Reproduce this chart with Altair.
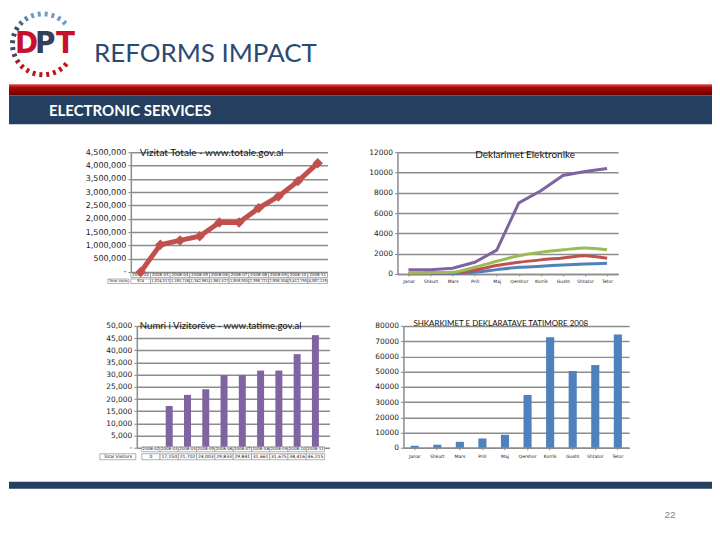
import altair as alt
import pandas as pd

# ---------------- data ----------------
tl_months = ["2008-02", "2008-03", "2008-04", "2008-05", "2008-06",
             "2008-07", "2008-08", "2008-09", "2008-10", "2008-11"]
tl_visits = [874, 1024317, 1185716, 1342861, 1861527,
             1858305, 2398721, 2836504, 3412795, 4087119]

months_al = ["Janar", "Shkurt", "Mars", "Prill", "Maj",
             "Qershor", "Korrik", "Gusht", "Shtator", "Tetor"]
decl_blue = [20, 40, 60, 170, 430, 660, 760, 890, 990, 1050]
decl_red = [70, 90, 110, 400, 830, 1150, 1390, 1580, 1800, 1550]
decl_green = [100, 130, 180, 660, 1250, 1800, 2150, 2380, 2570, 2380]
decl_purple = [420, 430, 560, 1150, 2350, 7000, 8200, 9700, 10100, 10400]
decl_series = ["S1", "S2", "S3", "S4"]

bl_months = tl_months
bl_visitors = [0, 17150, 21702, 24003, 29833, 29841, 31661, 31675, 38416, 46215]

br_downloads = [1300, 2000, 3900, 6100, 8500, 34600, 72600, 50400, 54300, 74300]

logo_angles = [45, 58, 71, 84, 97, 110, 123, 136, 149, 162, 175, 188,
               201, 214, 227, 240, 253, 266, 279, 292, 305, 318]
logo_colors = ["#6E9CC8", "#6E9CC8", "#6E9CC8", "#6E9CC8", "#6E9CC8", "#6E9CC8",
               "#5F86B0", "#4F6B90", "#3D4B68", "#3D4B68", "#3D4B68", "#3D4B68",
               "#5A3B4E", "#9A2030", "#C0141B", "#C0141B", "#C0141B", "#C0141B",
               "#C0141B", "#C0141B", "#C0141B", "#C0141B"]

# ---------------- style ----------------
FONT = "DejaVu Sans"
TFONT = "Lato"
GRID = "#8C8C8C"
RED = "#C0504D"
BLUE = "#4F81BD"
GREEN = "#9BBB59"
PURPLE = "#8064A2"
NAVY = "#243F60"

one = pd.DataFrame({"k": [0]})


def yaxis(values, expr, size=7.5):
    return alt.Axis(values=values, labelExpr=expr, grid=True, gridColor=GRID,
                    gridWidth=1.5, domainColor=GRID, domainWidth=1.5,
                    tickColor=GRID, tickSize=3, labelFontSize=size,
                    labelFont=FONT, labelColor="#222", labelPadding=2, title=None)


def ghost(x0, x1, y0, y1):
    # invisible box, only used to fix the extent of a layout cell
    return alt.Chart(one).mark_rect(opacity=0).encode(
        x=alt.value(x0), x2=alt.value(x1), y=alt.value(y0), y2=alt.value(y1))


def spacer(w, h, top=0, bottom=None):
    if bottom is None:
        bottom = h
    return ghost(0, w, top, bottom).properties(width=w, height=h)


DASH = "datum.value == 0 ? '-' : format(datum.value, ',')"

# ---------------- header ----------------
logo_df = pd.DataFrame({"a": logo_angles, "c": logo_colors})
dashes = alt.Chart(logo_df).transform_calculate(
    xa="34 + 28*cos(datum.a*PI/180)", ya="36 - 28*sin(datum.a*PI/180)",
    xb="34 + 33*cos(datum.a*PI/180)", yb="36 - 33*sin(datum.a*PI/180)"
).mark_rule(strokeWidth=3).encode(
    x=alt.X("xa:Q", scale=None), y=alt.Y("ya:Q", scale=None),
    x2="xb:Q", y2="yb:Q", color=alt.Color("c:N", scale=None)
)
hbase = alt.Chart(one)
logo_font = "Liberation Sans Narrow, DejaVu Sans Condensed, sans-serif"
d_txt = hbase.mark_text(align="left", baseline="alphabetic", font=logo_font,
                        fontWeight="bold", fontSize=31, color="#C8102E").encode(
    x=alt.value(6), y=alt.value(45), text=alt.value("D"))
p_txt = hbase.mark_text(align="left", baseline="alphabetic", font=logo_font,
                        fontWeight="bold", fontSize=31, color="#34405A").encode(
    x=alt.value(26), y=alt.value(45), text=alt.value("P"))
t_txt = hbase.mark_text(align="left", baseline="alphabetic", font=logo_font,
                        fontWeight="bold", fontSize=31, color="#C8102E").encode(
    x=alt.value(47), y=alt.value(45), text=alt.value("T"))
title_txt = hbase.mark_text(align="left", baseline="alphabetic", font=TFONT,
                            fontSize=26, color="#2A4A72").encode(
    x=alt.value(85), y=alt.value(54), text=alt.value("REFORMS IMPACT"))
red_grad = alt.Gradient(gradient="linear", x1=0, x2=0, y1=0, y2=1, stops=[
    alt.GradientStop(color="#E04848", offset=0),
    alt.GradientStop(color="#A80808", offset=0.3),
    alt.GradientStop(color="#6E0000", offset=1)])
red_band = hbase.mark_rect(color=red_grad).encode(
    x=alt.value(0), x2=alt.value(704), y=alt.value(76), y2=alt.value(87))
blue_band = hbase.mark_rect(color=NAVY).encode(
    x=alt.value(0), x2=alt.value(704), y=alt.value(87), y2=alt.value(116))
sub_txt = hbase.mark_text(align="left", baseline="alphabetic", font=TFONT,
                          fontWeight="bold", fontSize=15, color="white").encode(
    x=alt.value(40), y=alt.value(108), text=alt.value("ELECTRONIC SERVICES"))
header = alt.layer(ghost(0, 704, 0, 136), dashes, d_txt, p_txt, t_txt, title_txt,
                   red_band, blue_band, sub_txt).properties(width=704, height=136)

# ---------------- top-left: Vizitat Totale ----------------
tl_df = pd.DataFrame({"idx": list(range(10)), "month": tl_months, "visits": tl_visits})
xs_tl = alt.Scale(domain=[-0.5, 9.5], nice=False, zero=False)
tl_base = alt.Chart(tl_df)
tl_y = alt.Y("visits:Q", scale=alt.Scale(domain=[0, 4500000], nice=False),
             axis=yaxis(list(range(0, 4500001, 500000)), DASH, size=8))
tl_x = alt.X("idx:Q", scale=xs_tl, axis=None)
tl_line = tl_base.mark_line(color=RED, strokeWidth=5).encode(x=tl_x, y=tl_y)
tl_pts = tl_base.mark_point(shape="diamond", filled=True, size=110, color=RED,
                            opacity=1).encode(x=tl_x, y=tl_y)
cell_kw = dict(fill="white", stroke="#7F7F7F", strokeWidth=0.6)
tl_cells = alt.layer(*[
    tl_base.transform_calculate(x0="datum.idx-0.5", x1="datum.idx+0.5")
    .mark_rect(**cell_kw).encode(x=alt.X("x0:Q", scale=xs_tl, axis=None), x2="x1:Q",
                                 y=alt.value(y0), y2=alt.value(y1))
    for (y0, y1) in [(121, 125.5), (127, 131.5)]
])
tl_t1 = tl_base.mark_text(fontSize=4, font=FONT, color="#111").encode(
    x=tl_x, y=alt.value(123.3), text="month:N")
tl_t2 = tl_base.mark_text(fontSize=3.6, font=FONT, color="#111").encode(
    x=tl_x, y=alt.value(129.3), text=alt.Text("visits:Q", format=","))
tl_hcell = alt.Chart(one).mark_rect(**cell_kw).encode(
    x=alt.value(-23), x2=alt.value(-2), y=alt.value(127), y2=alt.value(131.5))
tl_htxt = alt.Chart(one).mark_text(fontSize=3.6, font=FONT, color="#111").encode(
    x=alt.value(-12.5), y=alt.value(129.3), text=alt.value("Total visits"))
tl_title = alt.Chart(one).mark_text(align="left", baseline="middle", font=TFONT,
                                    fontSize=10, color="#111").encode(
    x=alt.value(9), y=alt.value(1), text=alt.value("Vizitat Totale  - www.totale.gov.al"))
top_left = alt.layer(tl_cells, tl_t1, tl_t2, tl_hcell, tl_htxt, tl_line, tl_pts,
                     tl_title).properties(width=197, height=120)

# ---------------- top-right: Deklarimet Elektronike ----------------
rows = []
for s, vals in zip(decl_series, [decl_blue, decl_red, decl_green, decl_purple]):
    for m, v in zip(months_al, vals):
        rows.append({"month": m, "series": s, "value": v})
tr_df = pd.DataFrame(rows)
tr_x = alt.X("month:N", sort=months_al, scale=alt.Scale(type="point", padding=0.5),
             axis=alt.Axis(labelFontSize=4.5, labelFont=FONT, labelAngle=0,
                           labelColor="#222", tickSize=2, tickColor=GRID,
                           domainColor=GRID, domainWidth=1.5, labelPadding=3,
                           title=None, grid=False))
tr_y = alt.Y("value:Q", scale=alt.Scale(domain=[0, 12000], nice=False),
             axis=yaxis(list(range(0, 12001, 2000)), "format(datum.value, 'd')"))
tr_color = alt.Color("series:N", scale=alt.Scale(domain=decl_series,
                                                 range=[BLUE, RED, GREEN, PURPLE]),
                     legend=None)
tr_smooth = alt.Chart(tr_df).transform_filter("datum.series != 'S4'").mark_line(
    interpolate="monotone", strokeWidth=3).encode(x=tr_x, y=tr_y, color=tr_color,
                                                  detail="series:N")
tr_straight = alt.Chart(tr_df).transform_filter("datum.series == 'S4'").mark_line(
    strokeWidth=3).encode(x=tr_x, y=tr_y, color=tr_color)
tr_title = alt.Chart(one).mark_text(align="left", baseline="middle", font=TFONT,
                                    fontSize=10, color="#111").encode(
    x=alt.value(78), y=alt.value(2.5), text=alt.value("Deklarimet Elektronike"))
top_right = alt.layer(tr_smooth, tr_straight, tr_title).properties(width=221, height=122)

# ---------------- bottom-left: Numri i Vizitoreve ----------------
bl_df = pd.DataFrame({"idx": list(range(10)), "month": bl_months, "visitors": bl_visitors})
bl_base = alt.Chart(bl_df)
bl_x = alt.X("idx:Q", scale=xs_tl, axis=None)
bl_y = alt.Y("visitors:Q", scale=alt.Scale(domain=[0, 50000], nice=False),
             axis=yaxis(list(range(0, 50001, 5000)), DASH))
bl_bars = bl_base.mark_bar(size=7, color=PURPLE).encode(x=bl_x, y=bl_y)
bl_cells = alt.layer(*[
    bl_base.transform_calculate(x0="datum.idx-0.5", x1="datum.idx+0.5")
    .mark_rect(**cell_kw).encode(x=alt.X("x0:Q", scale=xs_tl, axis=None), x2="x1:Q",
                                 y=alt.value(y0), y2=alt.value(y1))
    for (y0, y1) in [(121, 126), (128, 134)]
])
bl_t1 = bl_base.mark_text(fontSize=4, font=FONT, color="#111").encode(
    x=bl_x, y=alt.value(123.5), text="month:N")
bl_t2 = bl_base.mark_text(fontSize=4.5, font=FONT, color="#111").encode(
    x=bl_x, y=alt.value(131), text=alt.Text("visitors:Q", format=","))
bl_hcell = alt.Chart(one).mark_rect(**cell_kw).encode(
    x=alt.value(-37), x2=alt.value(-1), y=alt.value(128), y2=alt.value(134))
bl_htxt = alt.Chart(one).mark_text(fontSize=4.5, font=FONT, color="#111").encode(
    x=alt.value(-19), y=alt.value(131), text=alt.value("Total Visitors"))
bl_title = alt.Chart(one).mark_text(align="left", baseline="middle", font=TFONT,
                                    fontSize=9.6, color="#111").encode(
    x=alt.value(3), y=alt.value(0), text=alt.value("Numri i Vizitorëve - www.tatime.gov.al"))
bottom_left = alt.layer(bl_bars, bl_cells, bl_t1, bl_t2, bl_hcell, bl_htxt,
                        bl_title).properties(width=193, height=122)

# ---------------- bottom-right: Shkarkimet ----------------
br_df = pd.DataFrame({"month": months_al, "downloads": br_downloads})
br_x = alt.X("month:N", sort=months_al,
             scale=alt.Scale(paddingInner=0.64, paddingOuter=0.32),
             axis=alt.Axis(labelFontSize=4.5, labelFont=FONT, labelAngle=0,
                           labelColor="#222", tickSize=2, tickColor=GRID,
                           domainColor=GRID, domainWidth=1.5, labelPadding=4,
                           title=None, grid=False))
br_y = alt.Y("downloads:Q", scale=alt.Scale(domain=[0, 80000], nice=False),
             axis=yaxis(list(range(0, 80001, 10000)), "format(datum.value, 'd')"))
br_bars = alt.Chart(br_df).mark_bar(color=BLUE).encode(x=br_x, y=br_y)
br_title = alt.Chart(one).mark_text(align="left", baseline="middle", font=TFONT,
                                    fontSize=8, color="#111").encode(
    x=alt.value(10), y=alt.value(-2),
    text=alt.value("SHKARKIMET E DEKLARATAVE TATIMORE 2008"))
bottom_right = alt.layer(br_bars, br_title).properties(width=226, height=122)

# ---------------- footer ----------------
fbase = alt.Chart(one)
foot_band = fbase.mark_rect(color=NAVY).encode(
    x=alt.value(0), x2=alt.value(704), y=alt.value(18), y2=alt.value(25))
page_no = fbase.mark_text(font="Liberation Sans", fontSize=10, color="#7F7F7F",
                          baseline="alphabetic").encode(
    x=alt.value(662), y=alt.value(54), text=alt.value("22"))
footer = alt.layer(ghost(0, 704, 0, 67), foot_band, page_no).properties(width=704, height=67)

# ---------------- layout ----------------
row1 = alt.hconcat(spacer(122, 122, -8, 166), top_left, spacer(70, 122), top_right,
                   spacing=0, bounds="flush")
row2 = alt.hconcat(spacer(128, 122, -8, 138), bottom_left, spacer(74, 122), bottom_right,
                   spacing=0, bounds="flush")

chart = alt.vconcat(header, row1, row2, footer, spacing=0).properties(
    padding={"left": 0, "top": 0, "right": 0, "bottom": 0},
    background="white"
).configure_view(stroke=None)

chart.save("out.html", embed_options={"renderer": "svg", "actions": False})
